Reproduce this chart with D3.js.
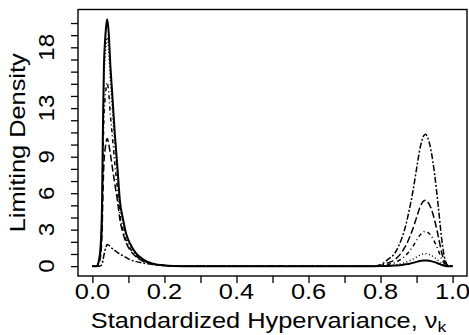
<!DOCTYPE html>
<html>
<head>
<meta charset="utf-8">
<script src="https://cdn.jsdelivr.net/npm/d3@7"></script>
<style>
  html, body { margin: 0; padding: 0; background: #fff; }
  svg text { font-family: "Liberation Sans", Arial, Helvetica, sans-serif; fill: #000; }
</style>
</head>
<body>
<svg id="chart" width="469" height="335"></svg>
<script>
// ---- data ----
const xGrid = [0, 0.012, 0.016, 0.02, 0.022, 0.025, 0.027, 0.029, 0.032, 0.035, 0.038, 0.041,
  0.045, 0.05, 0.055, 0.062, 0.07, 0.076, 0.085, 0.094, 0.105, 0.122, 0.14, 0.168, 0.2, 0.25,
  0.4, 0.6, 0.78, 0.8, 0.82, 0.84, 0.86, 0.87, 0.88, 0.89, 0.9, 0.91, 0.92, 0.925, 0.93, 0.94,
  0.95, 0.96, 0.97, 0.98, 0.99, 1.0];

const seriesSolid = [0, 0, 0.2, 0.81, 1.3, 3.05, 5.48, 10.96, 16.44, 18.47, 19.69, 20.3,
  19.29, 16.44, 14.21, 10.96, 7.92, 5.48, 3.86, 2.64, 1.83, 1.02, 0.57, 0.2, 0.06, 0,
  0, 0, 0, 0.005, 0.02, 0.05, 0.1, 0.15, 0.2, 0.27, 0.35, 0.42, 0.47, 0.47, 0.46, 0.41,
  0.33, 0.22, 0.09, 0.02, 0, 0];
const seriesDotted = [0, 0, 0.19, 0.75, 1.2, 2.82, 5.08, 10.15, 15.23, 17.11, 18.24, 18.8,
  17.86, 15.23, 13.16, 10.15, 7.33, 5.08, 3.57, 2.44, 1.69, 0.94, 0.53, 0.19, 0.06, 0,
  0, 0, 0, 0.01, 0.05, 0.1, 0.22, 0.32, 0.44, 0.58, 0.75, 0.92, 1.01, 1.02, 1.0, 0.9,
  0.71, 0.47, 0.2, 0.04, 0, 0];
const seriesDotDash = [0, 0, 0.15, 0.6, 0.97, 2.27, 4.08, 8.15, 12.23, 13.74, 14.65, 15.1,
  14.35, 12.4, 10.8, 8.5, 6.2, 4.3, 3.0, 2.1, 1.45, 0.82, 0.46, 0.17, 0.05, 0,
  0, 0, 0, 0.03, 0.14, 0.29, 0.63, 0.89, 1.23, 1.63, 2.12, 2.57, 2.83, 2.86, 2.8, 2.52,
  2.0, 1.32, 0.57, 0.11, 0, 0];
const seriesLongDash = [0, 0, 0.1, 0.42, 0.67, 1.58, 2.84, 5.67, 8.5, 9.55, 10.2, 10.5,
  10.1, 9.2, 8.2, 6.8, 5.3, 3.9, 2.7, 1.9, 1.3, 0.75, 0.42, 0.16, 0.05, 0,
  0, 0, 0, 0.05, 0.27, 0.54, 1.19, 1.68, 2.33, 3.09, 4.01, 4.88, 5.37, 5.42, 5.31, 4.77,
  3.79, 2.49, 1.08, 0.22, 0, 0];
const seriesTwoDash = [0, 0, 0, 0, 0.02, 0.08, 0.2, 0.45, 0.9, 1.3, 1.6, 1.77,
  1.72, 1.6, 1.45, 1.3, 1.12, 1.0, 0.85, 0.7, 0.52, 0.37, 0.26, 0.14, 0.05, 0.01,
  0, 0, 0, 0.11, 0.54, 1.08, 2.38, 3.36, 4.66, 6.18, 8.02, 9.76, 10.73, 10.84, 10.62, 9.54,
  7.59, 4.99, 2.17, 0.43, 0, 0];

const xTicks = [0, 0.1, 0.2, 0.3, 0.4, 0.5, 0.6, 0.7, 0.8, 0.9, 1.0];
const xTickLabels = ["0.0", "", "0.2", "", "0.4", "", "0.6", "", "0.8", "", "1.0"];
const yTicks = d3.range(0, 21);
const yLabelValues = [0, 3, 6, 9, 13, 18];
const xTitle = "Standardized Hypervariance, \u03BD";
const xTitleSub = "k";
const yTitle = "Limiting Density";

const series = [
  { name: "solid",    values: seriesSolid,    dash: null,        width: 2.0 },
  { name: "dotted",   values: seriesDotted,   dash: "1,2.5",     width: 1.5 },
  { name: "dotdash",  values: seriesDotDash,  dash: "1,3,4,3",   width: 1.5 },
  { name: "longdash", values: seriesLongDash, dash: "7,3",       width: 1.5 },
  { name: "twodash",  values: seriesTwoDash,  dash: "2,2,6,2",   width: 1.5 }
];

// ---- layout ----
const FS = 21.5, STRETCH = 1.18;
const svg = d3.select("#chart");
const box = { left: 78, right: 467, top: 9.5, bottom: 276 };
const xDataMin = 0, xDataMax = 1;
const yDataMin = 0, yDataMax = d3.max(series, s => d3.max(s.values));
const xPad = 0.04 * (xDataMax - xDataMin), yPad = 0.04 * (yDataMax - yDataMin);

const x = d3.scaleLinear().domain([xDataMin - xPad, xDataMax + xPad]).range([box.left, box.right]);
const y = d3.scaleLinear().domain([yDataMin - yPad, yDataMax + yPad]).range([box.bottom, box.top]);

// curves
const line = d3.line()
  .x((d, i) => x(xGrid[i]))
  .y(d => y(d))
  .curve(d3.curveMonotoneX);

svg.append("g").selectAll("path")
  .data(series)
  .join("path")
  .attr("d", s => line(s.values))
  .attr("fill", "none")
  .attr("stroke", "#000")
  .attr("stroke-width", s => s.width)
  .attr("stroke-dasharray", s => s.dash)
  .attr("stroke-linejoin", "round");

// box
svg.append("rect")
  .attr("x", box.left).attr("y", box.top)
  .attr("width", box.right - box.left).attr("height", box.bottom - box.top)
  .attr("fill", "none").attr("stroke", "#000").attr("stroke-width", 1.4);

// x axis ticks
const gx = svg.append("g").attr("transform", `translate(0,${box.bottom})`)
  .call(d3.axisBottom(x).tickValues(xTicks).tickSize(7).tickFormat(""));
gx.select(".domain").remove();
gx.selectAll(".tick line").attr("stroke", "#000").attr("stroke-width", 1.3);
gx.selectAll(".tick text").remove();
svg.append("g").selectAll("text")
  .data(xTicks.map((v, i) => ({ v, label: xTickLabels[i] })).filter(d => d.label))
  .join("text")
  .attr("transform", d => `translate(${x(d.v)},299) scale(${STRETCH},1)`)
  .attr("text-anchor", "middle")
  .attr("font-size", FS)
  .text(d => d.label);

// y axis ticks
const gy = svg.append("g").attr("transform", `translate(${box.left},0)`)
  .call(d3.axisLeft(y).tickValues(yTicks).tickSize(7).tickFormat(""));
gy.select(".domain").remove();
gy.selectAll(".tick line").attr("stroke", "#000").attr("stroke-width", 1.3);
gy.selectAll(".tick text").remove();
svg.append("g").selectAll("text")
  .data(yLabelValues)
  .join("text")
  .attr("transform", d => `translate(54,${y(d)}) rotate(-90) scale(${STRETCH * 0.95},1)`)
  .attr("text-anchor", "middle")
  .attr("font-size", FS)
  .text(d => String(d));

// axis titles
const xt = svg.append("text")
  .attr("transform", `translate(${(box.left + box.right) / 2 - 4},327.5) scale(${STRETCH},1)`)
  .attr("text-anchor", "middle")
  .attr("font-size", FS);
xt.append("tspan").text(xTitle);
xt.append("tspan").attr("font-size", 15).attr("dy", 4).text(xTitleSub);

svg.append("text")
  .attr("transform", `translate(25,${(box.top + box.bottom) / 2}) rotate(-90) scale(${STRETCH},1)`)
  .attr("text-anchor", "middle")
  .attr("font-size", FS)
  .text(yTitle);
</script>
</body>
</html>
